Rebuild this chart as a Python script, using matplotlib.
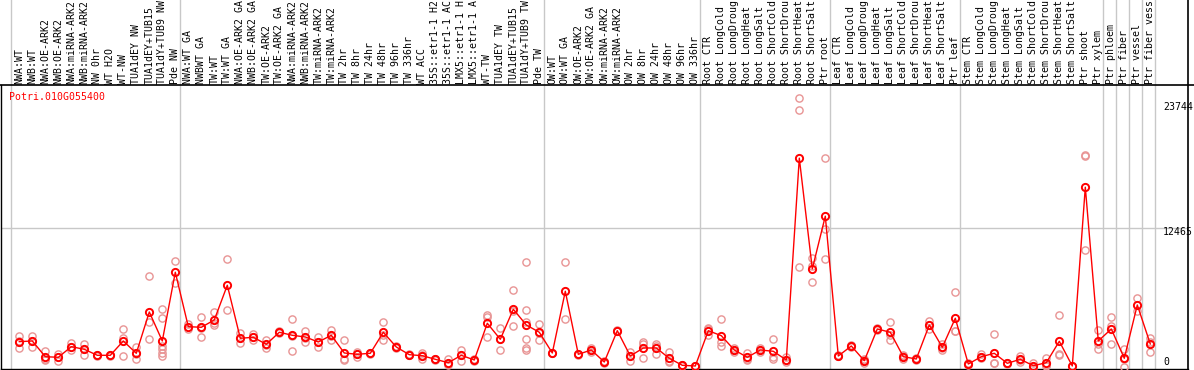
import matplotlib
matplotlib.use("Agg")
import matplotlib.pyplot as plt
from matplotlib.lines import Line2D
import matplotlib.transforms as mtransforms

gene = "Potri.010G055400"

labels = [
    "NWA:WT", "NWB:WT", "NWA:OE-ARK2", "NWB:OE-ARK2", "NWA:miRNA-ARK2", "NWB:miRNA-ARK2",
    "NW 0hr", "WT H2O", "WT-NW", "TUA1dEY NW", "TUA1dEY+TUB15", "TUA1dY+TUB9 NW", "Pde NW",
    "NWA:WT GA", "NWBWT GA", "TW:WT", "TW:WT GA", "NWA:OE-ARK2 GA", "NWB:OE-ARK2 GA",
    "TW:OE-ARK2", "TW:OE-ARK2 GA", "NWA:miRNA-ARK2", "NWB:miRNA-ARK2", "TW:miRNA-ARK2",
    "TW:miRNA-ARK2", "TW 2hr", "TW 8hr", "TW 24hr", "TW 48hr", "TW 96hr", "TW 336hr",
    "WT ACC", "35S::etr1-1 H2", "35S::etr1-1 AC", "LMX5::etr1-1 H", "LMX5::etr1-1 A",
    "WT-TW", "TUA1dEY TW", "TUA1dEY+TUB15", "TUA1dY+TUB9 TW", "Pde TW",
    "OW:WT", "OW:WT GA", "OW:OE-ARK2", "OW:OE-ARK2 GA", "OW:miRNA-ARK2", "OW:miRNA-ARK2",
    "OW 2hr", "OW 8hr", "OW 24hr", "OW 48hr", "OW 96hr", "OW 336hr",
    "Root CTR", "Root LongCold", "Root LongDroug", "Root LongHeat", "Root LongSalt",
    "Root ShortCold", "Root ShortDrou", "Root ShortHeat", "Root ShortSalt", "Ptr root",
    "Leaf CTR", "Leaf LongCold", "Leaf LongDroug", "Leaf LongHeat", "Leaf LongSalt",
    "Leaf ShortCold", "Leaf ShortDrou", "Leaf ShortHeat", "Leaf ShortSalt", "Ptr leaf",
    "Stem CTR", "Stem LongCold", "Stem LongDroug", "Stem LongHeat", "Stem LongSalt",
    "Stem ShortCold", "Stem ShortDrou", "Stem ShortHeat", "Stem ShortSalt", "Ptr shoot",
    "Ptr xylem", "Ptr phloem", "Ptr fiber", "Ptr vessel", "Ptr fiber vess",
]

means = [
    2280, 2340, 927, 873, 1827, 1593, 1053, 1053, 2340, 1233, 4950, 2340, 8523,
    3627, 3573, 4230, 7353, 2583, 2673, 2043, 3123, 2853, 2700, 2250, 2853, 1260,
    1143, 1233, 3123, 1800, 1107, 1017, 693, 387, 1053, 630, 3933, 2493, 5193, 3780, 3123,
    1260, 6813, 1143, 1530, 450, 3267, 990, 1710, 1710, 783, 153, 90,
    3267, 2817, 1530, 873, 1530, 1413, 630, 18783, 8820, 13563,
    990, 1890, 567, 3420, 3123, 927, 720, 3780, 1773, 4383,
    270, 927, 1233, 333, 693, 117, 387, 2313, 90, 16173,
    2340, 3420, 783, 5580, 2070,
]

replicates = [
    [2790, 2340, 1683], [2790, 2340, 1773], [1440, 693, 650], [1170, 900, 540],
    [2187, 1800, 1530], [2070, 1620, 1080], [1100, 1053, 1000], [1100, 1053, 1000],
    [3393, 2600, 990], [1827, 1170, 693], [8190, 4023, 2493],
    [5220, 4437, 1890, 1593, 1287, 990], [9513, 7587],
    [3843, 3420], [4527, 3500, 2673], [4977, 3960, 3753], [9720, 5130],
    [3033, 2583, 2133], [2970, 2673, 2430], [2430, 1953, 1737], [3200, 3123, 3050],
    [4320, 2800, 1440], [3267, 2610, 2223], [2700, 2250, 1773], [3330, 2800, 2430],
    [2430, 720, 630], [1350, 1200, 873], [1300, 1233, 1150], [4023, 2916, 2430],
    [1850, 1800, 1750], [1150, 1107, 1060], [1233, 1100, 693], [750, 693, 640],
    [693, 300, 170], [1530, 1080, 540], [680, 630, 580], [4680, 4527, 2727],
    [3483, 2493, 1503], [6903, 5000, 3690], [9423, 5103, 4023, 2493, 1737, 1530],
    [3870, 3070, 2430],
    [1300, 1260, 1220], [9423, 4293], [1180, 1143, 1100], [1737, 1500, 1350],
    [500, 450, 400], [3330, 3267, 3200], [1377, 1000, 567], [2277, 2070, 783],
    [2070, 1890, 1170], [1377, 500, 477], [180, 153, 120], [110, 90, 70],
    [3500, 3420, 2880], [4293, 2223, 1890], [1683, 1530, 1377], [1233, 760, 630],
    [1683, 1530, 1380], [2493, 927, 720], [927, 630, 477], [24183, 23103, 8967],
    [9783, 9117, 7623], [18783, 12393, 9693],
    [1050, 990, 950], [1950, 1890, 1830], [700, 600, 400], [3500, 3420, 3350],
    [4023, 2900, 2430], [1080, 1000, 693], [780, 720, 660], [4140, 3780, 3393],
    [2070, 1700, 1550], [6723, 3240, 3200],
    [387, 250, 180], [1143, 860, 783], [2943, 387, 380], [380, 333, 290],
    [1017, 600, 477], [333, 20, 0], [837, 200, 130], [4680, 1180, 1080],
    [120, 90, 60], [19100, 18950, 10500],
    [3330, 2100, 1593], [4527, 3690, 2070], [1593, 730, 27], [6183, 5067],
    [2637, 2250, 1323],
]

group_starts = [0, 13, 41, 53, 63, 73, 84, 85, 86, 87, 88]
y_ticks = [0, 12465, 23744]

W, H = 1194, 370
fig = plt.figure(figsize=(W / 100, H / 100), dpi=100)
ax_left, ax_right, ax_top, ax_bot = 1, 1188, 85, 369
ax = fig.add_axes([ax_left / W, (H - ax_bot) / H,
                   (ax_right - ax_left) / W, (ax_bot - ax_top) / H])

font = "DejaVu Sans Mono"
fs = 7.1
red = "#ff0000"
pink = "#e89494"
grey = "#c8c8c8"

n = len(labels)
xs = list(range(n))

px_per_x = 13.0
x0 = -(19.3 - ax_left) / px_per_x
ax.set_xlim(x0, x0 + (ax_right - ax_left) / px_per_x)
vpp = 23744 / (367 - 103)
ax.set_ylim(-(ax_bot - 367) * vpp, (367 - ax_top) * vpp)

# replicates
for i, reps in enumerate(replicates):
    ax.plot([i] * len(reps), reps, linestyle="none", marker="o", markersize=5.2,
            markerfacecolor="none", markeredgecolor=pink, markeredgewidth=1.0,
            zorder=3, clip_on=False)

ax.plot(xs, means, color=red, linewidth=1.0, zorder=4)
ax.plot(xs, means, linestyle="none", marker="o", markersize=5.2,
        markerfacecolor="none", markeredgecolor=red, markeredgewidth=1.4, zorder=5)

# grid
ax.axhline(12465, color=grey, linewidth=1.0, zorder=1)
for g in group_starts:
    ax.axvline(g - 0.65, ymin=0, ymax=ax_bot / (ax_bot - ax_top), color=grey,
               linewidth=1.0, zorder=1, clip_on=False)

ax.set_xticks([])
ax.set_yticks([])
for s in ax.spines.values():
    s.set_color("black")
    s.set_linewidth(1.0)
ax.spines["top"].set_visible(False)
ax.spines["right"].set_visible(False)

# frame lines in figure pixels
def fy(p):
    return (H - p) / H
fig.add_artist(Line2D([0, 1], [fy(ax_top), fy(ax_top)], color="black", linewidth=1.2,
                      transform=fig.transFigure))
fig.add_artist(Line2D([ax_right / W, ax_right / W], [0, 1], color="black", linewidth=1.2,
                      transform=fig.transFigure))

# sample labels
trans = mtransforms.blended_transform_factory(ax.transData, fig.transFigure)
for i, lab in enumerate(labels):
    fig.text(i, fy(83.5), lab, rotation=90, ha="center", va="bottom",
             fontsize=fs, family=font, color="black", transform=trans)

# title
fig.text(9 / W, fy(97), gene, ha="left", va="center", fontsize=fs, family=font, color=red)

# y labels
ytrans = mtransforms.blended_transform_factory(fig.transFigure, ax.transData)
offsets = {0: 5.3, 12465: -4.0, 23744: -4.0}
for t in y_ticks:
    off = mtransforms.ScaledTranslation(0, offsets[t] / 100, fig.dpi_scale_trans)
    fig.text(1163 / W, t, str(t), ha="left", va="center", fontsize=fs, family=font,
             color="black", transform=ytrans + off)

fig.savefig("out.png", dpi=100)
